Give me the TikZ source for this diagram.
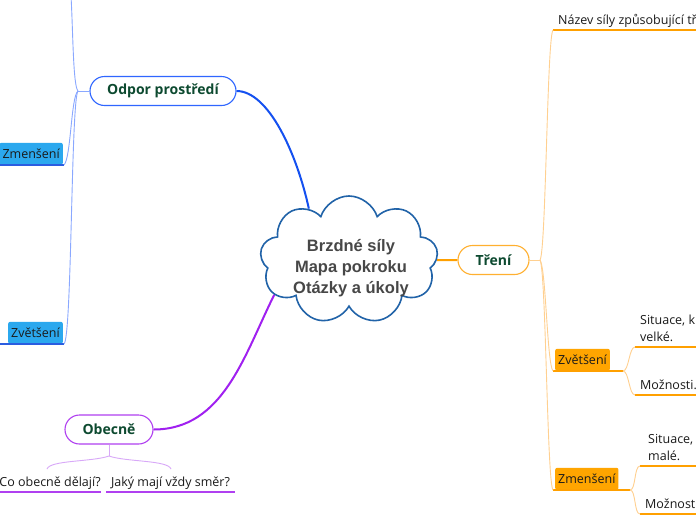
\documentclass[tikz,border=0pt]{standalone}
\usepackage{fontspec}
\setmainfont{Open Sans}
\newfontfamily\cloudfont{Liberation Sans}
\usetikzlibrary{shapes.symbols,calc}
\definecolor{cloudblue}{HTML}{2163A8}
\definecolor{cloudtext}{HTML}{474747}
\definecolor{dkgreen}{HTML}{0D4A30}
\definecolor{mblue}{HTML}{1450F0}
\definecolor{pblue}{HTML}{2F66FF}
\definecolor{lblue}{HTML}{8AA8FF}
\definecolor{bfill}{HTML}{2BA8EE}
\definecolor{bline}{HTML}{2B5DE0}
\definecolor{mpurple}{HTML}{A020F0}
\definecolor{ppurple}{HTML}{B040F0}
\definecolor{lpurple}{HTML}{D8A8F8}
\definecolor{morange}{HTML}{FFA000}
\definecolor{porange}{HTML}{FFB030}
\definecolor{lorange}{HTML}{FFD090}
\definecolor{ofill}{HTML}{FFA500}
\definecolor{txt}{HTML}{1A1A1A}
\tikzset{
  cloudnode/.style={cloud, cloud puffs=9, cloud puff arc=145, aspect=1.4,
    draw=cloudblue, line width=1.6pt, fill=white, minimum width=178pt, minimum height=128pt,
    inner sep=0pt},
  cloudtextstyle/.style={align=center, text=cloudtext, inner sep=0pt,
    font=\cloudfont\bfseries\fontsize{16.5}{21}\selectfont},
  pill/.style={draw, line width=1.1pt, rounded corners=14.5pt, fill=white,
    font=\bfseries\fontsize{14}{16}\selectfont, text=dkgreen, minimum height=29pt, inner sep=0pt},
  mainline/.style={line width=2pt},
  thinline/.style={line width=0.9pt},
  tbox/.style={rounded corners=2pt, inner xsep=3pt, inner ysep=0pt, minimum height=22pt,
    font=\fontsize{12.5}{14}\selectfont, text=txt},
  leaf/.style={inner xsep=5pt, inner ysep=2.5pt, text height=9pt, text depth=3pt,
    font=\fontsize{12.5}{17}\selectfont, text=txt, align=left},
  uline/.style={line width=2pt}
}
\begin{document}
\begin{tikzpicture}[x=1pt,y=-1pt]
\useasboundingbox (0,0) rectangle (696,520);
\fill[white] (0,0) rectangle (696,520);

% central cloud
\node[cloudnode] (root) at (349,260) {};
\node[cloudtextstyle] (roottext) at (351,268) {Brzdné síly\\Mapa pokroku\\Otázky a úkoly};

% main topics
\node[pill, draw=pblue, minimum width=146pt] (odpor) at (163,91) {Odpor prostředí};
\node[pill, draw=porange, minimum width=71pt] (treni) at (493.5,260) {Tření};
\node[pill, draw=ppurple, minimum width=88pt] (obecne) at (109,429.5) {Obecně};

% main connectors
\draw[mainline, mblue] (odpor.east) .. controls +(32,0) and +(-12,-55) .. (root.128);
\draw[mainline, mpurple] (obecne.east) .. controls +(70,0) and +(-30,60) .. (root.205);
\draw[mainline, morange] (root.east) -- (treni.west);

% ---- left (Odpor prostredi) ----
\coordinate (lj) at (78,91);
\coordinate (ltop) at (71,-4);
\node[tbox, fill=bfill, anchor=south east] (zmB) at (63,165) {Zmenšení};
\node[tbox, fill=bfill, anchor=south east] (zvB) at (63,344) {Zvětšení};
\coordinate (zmBL) at (0,165); \coordinate (zmBR) at (64,165);
\coordinate (zvBL) at (0,344); \coordinate (zvBR) at (64,344);
\draw[uline, bline] (zmBL) -- (zmBR);
\draw[uline, bline] (zvBL) -- (zvBR);
\draw[thinline, lblue] (odpor.west) -- (lj);
\draw[thinline, lblue] (lj) .. controls (73,86) and (73,30) .. (ltop);
\draw[thinline, lblue] (lj) .. controls (71,96) and (71,158) .. (zmBR);
\draw[thinline, lblue] (lj) .. controls (71,100) and (72,337) .. (zvBR);

% ---- bottom left (Obecne) ----
\coordinate (oj) at (109,456);
\node[leaf, anchor=south] (co) at (50,492) {Co obecně dělají?};
\node[leaf, anchor=south] (jaky) at (170.5,492) {Jaký mají vždy směr?};
\coordinate (coL) at (0,492); \coordinate (coR) at (101,492);
\coordinate (jaL) at (106,492); \coordinate (jaR) at (235,492);
\draw[uline, ppurple] (coL) -- (coR);
\draw[uline, ppurple] (jaL) -- (jaR);
\coordinate (coT) at (47,469); \coordinate (jaT) at (171,469);
\draw[thinline, lpurple] (obecne.south) -- (oj);
\draw[thinline, lpurple] (oj) .. controls (92,462) and (50,460) .. (coT);
\draw[thinline, lpurple] (oj) .. controls (126,462) and (168,460) .. (jaT);

% ---- right (Treni) ----
\coordinate (rj) at (540,260);
\draw[thinline, lorange] (treni.east) -- (rj);
\node[leaf, anchor=south west] (nazev) at (553,30) {Název síly způsobující tř};
\coordinate (naL) at (553,30); \coordinate (naR) at (696,30);
\draw[uline, morange] (naL) -- (naR);
\draw[thinline, lorange] (rj) .. controls (546,252) and (547,38) .. (naL);

\node[tbox, fill=ofill, anchor=south west] (zvO) at (555,371) {Zvětšení};
\node[tbox, fill=ofill, anchor=south west] (zmO) at (555,490) {Zmenšení};
\coordinate (zvOL) at (553,371); \coordinate (zvOR) at (623,371);
\coordinate (zmOL) at (553,490); \coordinate (zmOR) at (630,490);
\draw[uline, morange] (zvOL) -- (zvOR);
\draw[uline, morange] (zmOL) -- (zmOR);
\draw[thinline, lorange] (rj) .. controls (546,268) and (547,364) .. (zvOL);
\draw[thinline, lorange] (rj) .. controls (546,270) and (547,482) .. (zmOL);

% children of Zvetseni
\node[leaf, anchor=south west] (sit1) at (635,347) {Situace, k\\velké.};
\node[leaf, anchor=south west] (moz1) at (635,395) {Možnosti.};
\coordinate (s1L) at (635,347); \coordinate (s1R) at (696,347);
\coordinate (m1L) at (635,395); \coordinate (m1R) at (696,395);
\draw[uline, morange] (s1L) -- (s1R);
\draw[uline, morange] (m1L) -- (m1R);
\draw[thinline, lorange] (zvOR) .. controls (629,371) and (629,347) .. (s1L);
\draw[thinline, lorange] (zvOR) .. controls (629,371) and (629,395) .. (m1L);

% children of Zmenseni
\node[leaf, anchor=south west] (sit2) at (643,466) {Situace,\\malé.};
\node[leaf, anchor=south west] (moz2) at (640,514) {Možnost};
\coordinate (s2L) at (640,466); \coordinate (s2R) at (696,466);
\coordinate (m2L) at (640,514); \coordinate (m2R) at (696,514);
\draw[uline, morange] (s2L) -- (s2R);
\draw[uline, morange] (m2L) -- (m2R);
\draw[thinline, lorange] (zmOR) .. controls (636,490) and (634,466) .. (s2L);
\draw[thinline, lorange] (zmOR) .. controls (636,490) and (634,514) .. (m2L);
\end{tikzpicture}
\end{document}
